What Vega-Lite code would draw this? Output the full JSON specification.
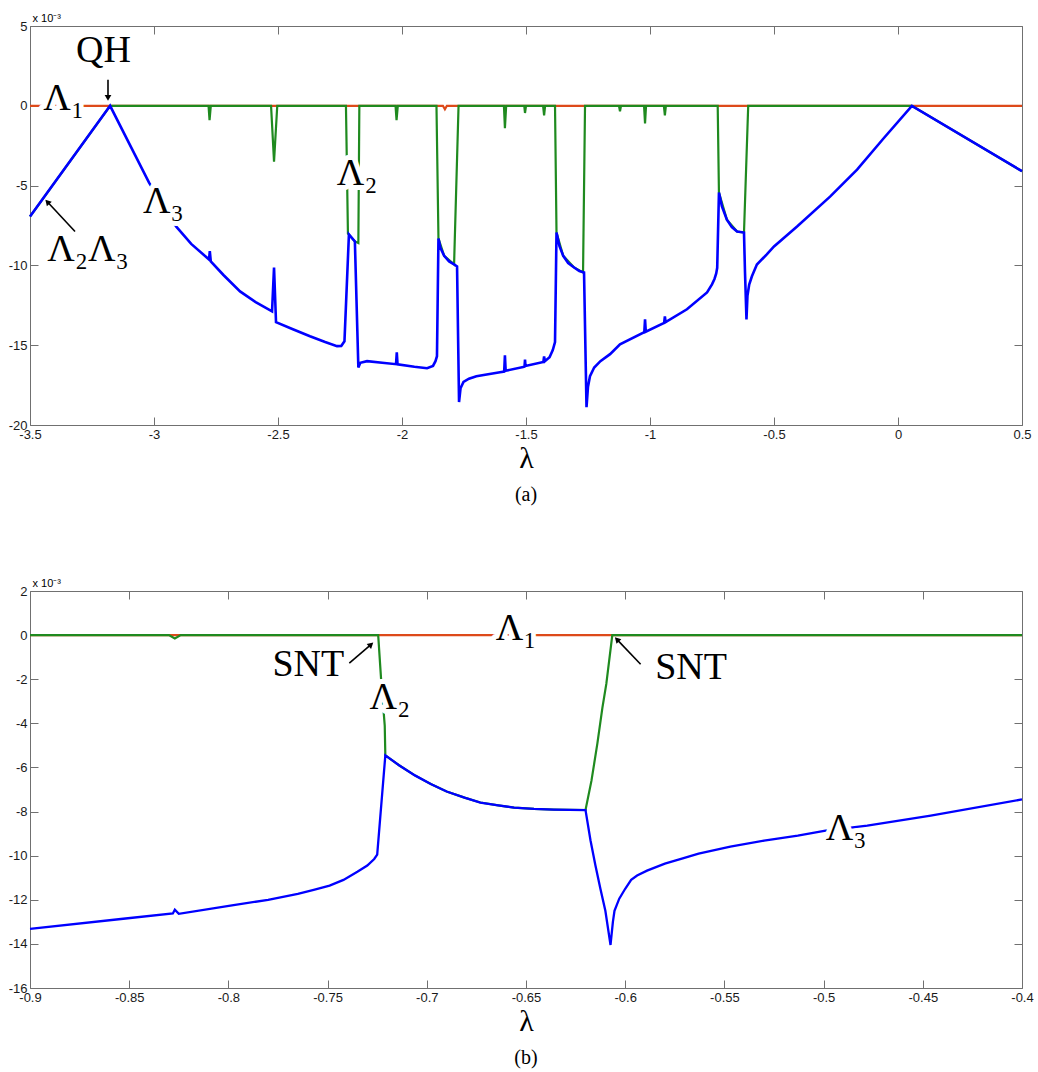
{
  "$schema": "https://vega.github.io/schema/vega-lite/v6.json",
  "padding": {"left": 8, "top": 12, "right": 5, "bottom": 5},
  "bounds": "flush",
  "spacing": 166,
  "config": {
    "view": {"stroke": null},
    "locale": {"number": {"decimal": ".", "thousands": ",", "grouping": [3], "currency": ["$", ""], "minus": "-"}},
    "axis": {
      "grid": false,
      "labelFont": "Liberation Sans",
      "labelFontSize": 13,
      "labelColor": "#1a1a1a",
      "domainColor": "#707070",
      "tickColor": "#707070",
      "tickSize": -8,
      "labelPadding": 11,
      "labelFlush": false,
      "labelOverlap": false,
      "format": "~g"
    },
    "title": {"font": "Liberation Serif", "fontWeight": "normal", "color": "#000000"}
  },
  "datasets": {
    "a1": [
      {"lam": -3.5, "val": 0}, {"lam": -3.0, "val": 0}, {"lam": -2.5, "val": 0}, {"lam": -2.0, "val": 0},
      {"lam": -1.835, "val": 0}, {"lam": -1.827, "val": -0.22}, {"lam": -1.819, "val": 0},
      {"lam": -1.0, "val": 0}, {"lam": 0.5, "val": 0}
    ],
    "a2": [
      {"lam": -3.5, "val": -6.94}, {"lam": -3.177, "val": 0}, {"lam": -2.78, "val": 0}, {"lam": -2.776, "val": -0.9},
      {"lam": -2.771, "val": 0}, {"lam": -2.528, "val": 0}, {"lam": -2.516, "val": -3.5}, {"lam": -2.503, "val": 0},
      {"lam": -2.226, "val": 0}, {"lam": -2.218, "val": -8.0}, {"lam": -2.19, "val": -8.5}, {"lam": -2.176, "val": -8.6},
      {"lam": -2.172, "val": 0}, {"lam": -2.026, "val": 0}, {"lam": -2.022, "val": -0.9}, {"lam": -2.017, "val": 0},
      {"lam": -1.861, "val": 0}, {"lam": -1.853, "val": -8.31}, {"lam": -1.83, "val": -9.4}, {"lam": -1.79, "val": -9.94},
      {"lam": -1.772, "val": 0}, {"lam": -1.589, "val": 0}, {"lam": -1.585, "val": -1.4}, {"lam": -1.58, "val": 0},
      {"lam": -1.507, "val": 0}, {"lam": -1.504, "val": -0.45}, {"lam": -1.5, "val": 0},
      {"lam": -1.431, "val": 0}, {"lam": -1.427, "val": -0.6}, {"lam": -1.423, "val": 0},
      {"lam": -1.383, "val": 0}, {"lam": -1.377, "val": -7.94}, {"lam": -1.35, "val": -9.4}, {"lam": -1.306, "val": -10.13},
      {"lam": -1.27, "val": -10.44}, {"lam": -1.262, "val": 0},
      {"lam": -1.125, "val": 0}, {"lam": -1.121, "val": -0.35}, {"lam": -1.117, "val": 0},
      {"lam": -1.024, "val": 0}, {"lam": -1.02, "val": -1.1}, {"lam": -1.016, "val": 0},
      {"lam": -0.944, "val": 0}, {"lam": -0.94, "val": -0.6}, {"lam": -0.936, "val": 0},
      {"lam": -0.727, "val": 0}, {"lam": -0.722, "val": -5.44}, {"lam": -0.69, "val": -7.13}, {"lam": -0.649, "val": -7.88},
      {"lam": -0.621, "val": -7.94}, {"lam": -0.604, "val": 0}, {"lam": 0.056, "val": 0}, {"lam": 0.5, "val": -4.1}
    ],
    "a3": [
      {"lam": -3.5, "val": -6.94}, {"lam": -3.177, "val": 0}, {"lam": -3.02, "val": -4.81}, {"lam": -2.911, "val": -7.56},
      {"lam": -2.85, "val": -8.65}, {"lam": -2.778, "val": -9.63}, {"lam": -2.775, "val": -9.1}, {"lam": -2.771, "val": -9.75},
      {"lam": -2.72, "val": -10.6}, {"lam": -2.653, "val": -11.63}, {"lam": -2.59, "val": -12.3},
      {"lam": -2.524, "val": -12.88}, {"lam": -2.516, "val": -10.13}, {"lam": -2.508, "val": -13.56}, {"lam": -2.44, "val": -14.0},
      {"lam": -2.371, "val": -14.44}, {"lam": -2.31, "val": -14.8},
      {"lam": -2.262, "val": -15.06}, {"lam": -2.245, "val": -15.05}, {"lam": -2.232, "val": -14.75}, {"lam": -2.214, "val": -8.06}, {"lam": -2.19, "val": -8.5},
      {"lam": -2.176, "val": -16.4}, {"lam": -2.168, "val": -16.1}, {"lam": -2.141, "val": -16.0}, {"lam": -2.08, "val": -16.1}, {"lam": -2.024, "val": -16.19}, {"lam": -2.021, "val": -15.44},
      {"lam": -2.018, "val": -16.2}, {"lam": -1.95, "val": -16.35}, {"lam": -1.899, "val": -16.44}, {"lam": -1.875, "val": -16.3}, {"lam": -1.865, "val": -16.0}, {"lam": -1.859, "val": -15.69},
      {"lam": -1.853, "val": -8.31}, {"lam": -1.845, "val": -8.9}, {"lam": -1.83, "val": -9.4}, {"lam": -1.81, "val": -9.75}, {"lam": -1.79, "val": -9.94}, {"lam": -1.778, "val": -10.06},
      {"lam": -1.77, "val": -18.56}, {"lam": -1.764, "val": -17.7}, {"lam": -1.752, "val": -17.3}, {"lam": -1.73, "val": -17.1}, {"lam": -1.7, "val": -16.95}, {"lam": -1.605, "val": -16.69},
      {"lam": -1.588, "val": -16.65}, {"lam": -1.585, "val": -15.63}, {"lam": -1.582, "val": -16.6}, {"lam": -1.506, "val": -16.35},
      {"lam": -1.504, "val": -15.9}, {"lam": -1.502, "val": -16.3}, {"lam": -1.43, "val": -16.05}, {"lam": -1.427, "val": -15.7},
      {"lam": -1.424, "val": -16.0}, {"lam": -1.405, "val": -15.75}, {"lam": -1.392, "val": -15.3}, {"lam": -1.383, "val": -14.81}, {"lam": -1.377, "val": -7.94},
      {"lam": -1.365, "val": -8.8}, {"lam": -1.35, "val": -9.4}, {"lam": -1.33, "val": -9.85}, {"lam": -1.306, "val": -10.13}, {"lam": -1.285, "val": -10.35}, {"lam": -1.266, "val": -10.44}, {"lam": -1.256, "val": -18.88},
      {"lam": -1.25, "val": -17.6}, {"lam": -1.242, "val": -16.94}, {"lam": -1.225, "val": -16.4}, {"lam": -1.2, "val": -16.0}, {"lam": -1.161, "val": -15.56}, {"lam": -1.121, "val": -14.94},
      {"lam": -1.023, "val": -14.19}, {"lam": -1.02, "val": -13.38}, {"lam": -1.017, "val": -14.15}, {"lam": -0.943, "val": -13.6},
      {"lam": -0.94, "val": -13.2}, {"lam": -0.937, "val": -13.55}, {"lam": -0.851, "val": -12.75}, {"lam": -0.77, "val": -11.69},
      {"lam": -0.75, "val": -11.19}, {"lam": -0.74, "val": -10.85}, {"lam": -0.733, "val": -10.5}, {"lam": -0.729, "val": -10.15}, {"lam": -0.722, "val": -5.44}, {"lam": -0.71, "val": -6.3}, {"lam": -0.69, "val": -7.13},
      {"lam": -0.67, "val": -7.6}, {"lam": -0.649, "val": -7.88}, {"lam": -0.621, "val": -7.94}, {"lam": -0.617, "val": -10.4}, {"lam": -0.611, "val": -13.38},
      {"lam": -0.607, "val": -11.9}, {"lam": -0.6, "val": -11.2}, {"lam": -0.589, "val": -10.68}, {"lam": -0.569, "val": -9.95}, {"lam": -0.53, "val": -9.32}, {"lam": -0.5, "val": -8.81}, {"lam": -0.407, "val": -7.56},
      {"lam": -0.274, "val": -5.69}, {"lam": -0.165, "val": -4.0}, {"lam": -0.056, "val": -2.0}, {"lam": 0.056, "val": 0},
      {"lam": 0.5, "val": -4.1}
    ],
    "b1": [{"lam": -0.9, "val": 0}, {"lam": -0.4, "val": 0}],
    "b2": [
      {"lam": -0.9, "val": 0}, {"lam": -0.83, "val": 0}, {"lam": -0.827, "val": -0.15}, {"lam": -0.824, "val": 0},
      {"lam": -0.7245, "val": 0}, {"lam": -0.723, "val": -2.05}, {"lam": -0.7212, "val": -4.1}, {"lam": -0.7209, "val": -5.45},
      {"lam": -0.714, "val": -5.9}, {"lam": -0.706, "val": -6.36}, {"lam": -0.698, "val": -6.75}, {"lam": -0.69, "val": -7.09}, {"lam": -0.681, "val": -7.37},
      {"lam": -0.673, "val": -7.59}, {"lam": -0.664, "val": -7.72}, {"lam": -0.656, "val": -7.82}, {"lam": -0.646, "val": -7.88},
      {"lam": -0.636, "val": -7.91}, {"lam": -0.62, "val": -7.93}, {"lam": -0.617, "val": -6.6}, {"lam": -0.614, "val": -4.9}, {"lam": -0.6115, "val": -3.3},
      {"lam": -0.6095, "val": -2.2}, {"lam": -0.6065, "val": 0}, {"lam": -0.4, "val": 0}
    ],
    "b3": [
      {"lam": -0.9, "val": -13.32}, {"lam": -0.853, "val": -12.86}, {"lam": -0.828, "val": -12.62}, {"lam": -0.827, "val": -12.45},
      {"lam": -0.825, "val": -12.64}, {"lam": -0.799, "val": -12.27}, {"lam": -0.78, "val": -12.0}, {"lam": -0.765, "val": -11.73}, {"lam": -0.757, "val": -11.55}, {"lam": -0.749, "val": -11.36},
      {"lam": -0.742, "val": -11.1}, {"lam": -0.735, "val": -10.73}, {"lam": -0.73, "val": -10.45}, {"lam": -0.7265, "val": -10.15}, {"lam": -0.725, "val": -9.95}, {"lam": -0.7209, "val": -5.45},
      {"lam": -0.714, "val": -5.9}, {"lam": -0.706, "val": -6.36}, {"lam": -0.698, "val": -6.75}, {"lam": -0.69, "val": -7.09}, {"lam": -0.681, "val": -7.37},
      {"lam": -0.673, "val": -7.59}, {"lam": -0.664, "val": -7.72}, {"lam": -0.656, "val": -7.82}, {"lam": -0.646, "val": -7.88}, {"lam": -0.636, "val": -7.91},
      {"lam": -0.62, "val": -7.93}, {"lam": -0.6175, "val": -9.3}, {"lam": -0.615, "val": -10.45}, {"lam": -0.6125, "val": -11.5}, {"lam": -0.61, "val": -12.5}, {"lam": -0.6074, "val": -14.05},
      {"lam": -0.6062, "val": -13.0}, {"lam": -0.6054, "val": -12.5}, {"lam": -0.603, "val": -11.95}, {"lam": -0.6, "val": -11.5}, {"lam": -0.597, "val": -11.1}, {"lam": -0.594, "val": -10.9}, {"lam": -0.589, "val": -10.68},
      {"lam": -0.58, "val": -10.36}, {"lam": -0.571, "val": -10.12}, {"lam": -0.563, "val": -9.91}, {"lam": -0.547, "val": -9.59}, {"lam": -0.53, "val": -9.32},
      {"lam": -0.513, "val": -9.09}, {"lam": -0.499, "val": -8.86}, {"lam": -0.478, "val": -8.64}, {"lam": -0.446, "val": -8.18},
      {"lam": -0.4, "val": -7.45}
    ],
    "labA": [
      {"lam": -3.2036, "val": 3.46, "t": "QH"},
      {"lam": -3.364, "val": 0.44, "t": "Λ₁"},
      {"lam": -3.266, "val": -9.06, "t": "Λ₂Λ₃"},
      {"lam": -2.962, "val": -6.0, "t": "Λ₃"},
      {"lam": -2.181, "val": -4.25, "t": "Λ₂"}
    ],
    "labB": [
      {"lam": -0.7597, "val": -1.34, "t": "SNT"},
      {"lam": -0.7186, "val": -2.86, "t": "Λ₂"},
      {"lam": -0.655, "val": 0.27, "t": "Λ₁"},
      {"lam": -0.5668, "val": -1.5, "t": "SNT"},
      {"lam": -0.4886, "val": -8.77, "t": "Λ₃"}
    ],
    "arrA": [
      {"id": "qh", "lam": -3.1855, "val": 0.56, "lam2": -3.1855, "val2": 1.625},
      {"id": "l23", "lam": -3.4274, "val": -6.06, "lam2": -3.3185, "val2": -7.875}
    ],
    "arrB": [
      {"id": "snt1", "lam": -0.72846, "val": -0.455, "lam2": -0.73905, "val2": -1.27},
      {"id": "snt2", "lam": -0.60384, "val": -0.227, "lam2": -0.59223, "val2": -1.318}
    ]
  },
  "vconcat": [
    {
      "width": 992,
      "height": 399,
      "title": {"text": "(a)", "orient": "bottom", "anchor": "middle", "fontSize": 20, "offset": 12},
      "resolve": {"axis": {"x": "independent", "y": "independent"}},
      "layer": [
        {
          "data": {"name": "a1"},
          "mark": {"type": "line", "color": "#dd4a1a", "strokeWidth": 2.2},
          "encoding": {
            "x": {"field": "lam", "type": "quantitative", "scale": {"domain": [-3.5, 0.5], "nice": false, "zero": false},
                  "axis": {"values": [-3.5, -3, -2.5, -2, -1.5, -1, -0.5, 0, 0.5], "title": "λ", "titleFont": "Liberation Serif", "titleFontSize": 30, "titleFontWeight": "normal", "titlePadding": 2}},
            "y": {"field": "val", "type": "quantitative", "scale": {"domain": [-20, 5], "nice": false, "zero": false},
                  "axis": {"values": [5, 0, -5, -10, -15, -20], "title": "x 10⁻³", "titleFont": "Liberation Sans", "titleFontSize": 11, "titleFontWeight": "normal", "titleAngle": 0, "titleAlign": "left", "titleBaseline": "alphabetic", "titleX": 2, "titleY": -5}}
          }
        },
        {
          "data": {"name": "a2"},
          "mark": {"type": "line", "color": "#1f8a1f", "strokeWidth": 2.2},
          "encoding": {
            "x": {"field": "lam", "type": "quantitative", "axis": {"orient": "top", "labels": false, "title": null, "values": [-3.5, -3, -2.5, -2, -1.5, -1, -0.5, 0, 0.5]}},
            "y": {"field": "val", "type": "quantitative", "axis": {"orient": "right", "labels": false, "title": null, "values": [5, 0, -5, -10, -15, -20]}}
          }
        },
        {
          "data": {"name": "a3"},
          "mark": {"type": "line", "color": "#0000ff", "strokeWidth": 2.6},
          "encoding": {
            "x": {"field": "lam", "type": "quantitative", "axis": null},
            "y": {"field": "val", "type": "quantitative", "axis": null}
          }
        },
        {
          "data": {"name": "labA"},
          "mark": {"type": "text", "font": "Liberation Serif", "fontSize": 38, "baseline": "middle", "align": "center", "fill": "white", "stroke": "white", "strokeWidth": 10, "strokeJoin": "round"},
          "encoding": {
            "x": {"field": "lam", "type": "quantitative", "axis": null},
            "y": {"field": "val", "type": "quantitative", "axis": null},
            "text": {"field": "t"}
          }
        },
        {
          "data": {"name": "labA"},
          "mark": {"type": "text", "font": "Liberation Serif", "fontSize": 38, "baseline": "middle", "align": "center", "color": "black"},
          "encoding": {
            "x": {"field": "lam", "type": "quantitative", "axis": null},
            "y": {"field": "val", "type": "quantitative", "axis": null},
            "text": {"field": "t"}
          }
        },
        {
          "data": {"name": "arrA"},
          "mark": {"type": "rule", "color": "black", "strokeWidth": 1.6},
          "encoding": {
            "x": {"field": "lam", "type": "quantitative", "axis": null},
            "y": {"field": "val", "type": "quantitative", "axis": null},
            "x2": {"field": "lam2"},
            "y2": {"field": "val2"}
          }
        },
        {
          "data": {"name": "arrA"},
          "transform": [{"filter": "datum.id == 'qh'"}],
          "mark": {"type": "point", "shape": "triangle", "filled": true, "color": "black", "size": 45, "angle": 180, "opacity": 1},
          "encoding": {
            "x": {"field": "lam", "type": "quantitative", "axis": null},
            "y": {"field": "val", "type": "quantitative", "axis": null}
          }
        },
        {
          "data": {"name": "arrA"},
          "transform": [{"filter": "datum.id == 'l23'"}],
          "mark": {"type": "point", "shape": "triangle", "filled": true, "color": "black", "size": 45, "angle": 317, "opacity": 1},
          "encoding": {
            "x": {"field": "lam", "type": "quantitative", "axis": null},
            "y": {"field": "val", "type": "quantitative", "axis": null}
          }
        }
      ]
    },
    {
      "width": 992,
      "height": 397,
      "title": {"text": "(b)", "orient": "bottom", "anchor": "middle", "fontSize": 20, "offset": 12},
      "resolve": {"axis": {"x": "independent", "y": "independent"}},
      "layer": [
        {
          "data": {"name": "b1"},
          "mark": {"type": "line", "color": "#dd4a1a", "strokeWidth": 2.2},
          "encoding": {
            "x": {"field": "lam", "type": "quantitative", "scale": {"domain": [-0.9, -0.4], "nice": false, "zero": false},
                  "axis": {"values": [-0.9, -0.85, -0.8, -0.75, -0.7, -0.65, -0.6, -0.55, -0.5, -0.45, -0.4], "title": "λ", "titleFont": "Liberation Serif", "titleFontSize": 30, "titleFontWeight": "normal", "titlePadding": 2}},
            "y": {"field": "val", "type": "quantitative", "scale": {"domain": [-16, 2], "nice": false, "zero": false},
                  "axis": {"values": [2, 0, -2, -4, -6, -8, -10, -12, -14, -16], "title": "x 10⁻³", "titleFont": "Liberation Sans", "titleFontSize": 11, "titleFontWeight": "normal", "titleAngle": 0, "titleAlign": "left", "titleBaseline": "alphabetic", "titleX": 2, "titleY": -5}}
          }
        },
        {
          "data": {"name": "b2"},
          "mark": {"type": "line", "color": "#1f8a1f", "strokeWidth": 2.2},
          "encoding": {
            "x": {"field": "lam", "type": "quantitative", "axis": {"orient": "top", "labels": false, "title": null, "values": [-0.9, -0.85, -0.8, -0.75, -0.7, -0.65, -0.6, -0.55, -0.5, -0.45, -0.4]}},
            "y": {"field": "val", "type": "quantitative", "axis": {"orient": "right", "labels": false, "title": null, "values": [2, 0, -2, -4, -6, -8, -10, -12, -14, -16]}}
          }
        },
        {
          "data": {"name": "b3"},
          "mark": {"type": "line", "color": "#0000ff", "strokeWidth": 2.3},
          "encoding": {
            "x": {"field": "lam", "type": "quantitative", "axis": null},
            "y": {"field": "val", "type": "quantitative", "axis": null}
          }
        },
        {
          "data": {"name": "labB"},
          "mark": {"type": "text", "font": "Liberation Serif", "fontSize": 38, "baseline": "middle", "align": "center", "fill": "white", "stroke": "white", "strokeWidth": 10, "strokeJoin": "round"},
          "encoding": {
            "x": {"field": "lam", "type": "quantitative", "axis": null},
            "y": {"field": "val", "type": "quantitative", "axis": null},
            "text": {"field": "t"}
          }
        },
        {
          "data": {"name": "labB"},
          "mark": {"type": "text", "font": "Liberation Serif", "fontSize": 38, "baseline": "middle", "align": "center", "color": "black"},
          "encoding": {
            "x": {"field": "lam", "type": "quantitative", "axis": null},
            "y": {"field": "val", "type": "quantitative", "axis": null},
            "text": {"field": "t"}
          }
        },
        {
          "data": {"name": "arrB"},
          "mark": {"type": "rule", "color": "black", "strokeWidth": 1.6},
          "encoding": {
            "x": {"field": "lam", "type": "quantitative", "axis": null},
            "y": {"field": "val", "type": "quantitative", "axis": null},
            "x2": {"field": "lam2"},
            "y2": {"field": "val2"}
          }
        },
        {
          "data": {"name": "arrB"},
          "transform": [{"filter": "datum.id == 'snt1'"}],
          "mark": {"type": "point", "shape": "triangle", "filled": true, "color": "black", "size": 45, "angle": 49, "opacity": 1},
          "encoding": {
            "x": {"field": "lam", "type": "quantitative", "axis": null},
            "y": {"field": "val", "type": "quantitative", "axis": null}
          }
        },
        {
          "data": {"name": "arrB"},
          "transform": [{"filter": "datum.id == 'snt2'"}],
          "mark": {"type": "point", "shape": "triangle", "filled": true, "color": "black", "size": 45, "angle": 316, "opacity": 1},
          "encoding": {
            "x": {"field": "lam", "type": "quantitative", "axis": null},
            "y": {"field": "val", "type": "quantitative", "axis": null}
          }
        }
      ]
    }
  ]
}
